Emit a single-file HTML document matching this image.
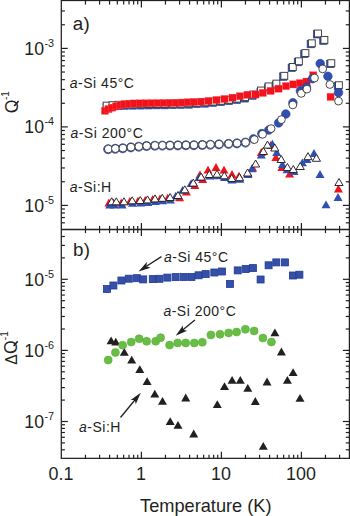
<!DOCTYPE html>
<html><head><meta charset="utf-8"><style>
html,body{margin:0;padding:0;background:#fff;}
body{width:350px;height:516px;overflow:hidden;}
svg{display:block;}
</style></head><body>
<svg width="350" height="516" viewBox="0 0 350 516">
<rect width="350" height="516" fill="#fff"/>
<line x1="85.48" y1="0.50" x2="85.48" y2="4.60" stroke="#231f20" stroke-width="1.2"/>
<line x1="85.48" y1="225.90" x2="85.48" y2="233.10" stroke="#231f20" stroke-width="1.2"/>
<line x1="85.48" y1="454.75" x2="85.48" y2="458.35" stroke="#231f20" stroke-width="1.2"/>
<line x1="99.57" y1="0.50" x2="99.57" y2="4.60" stroke="#231f20" stroke-width="1.2"/>
<line x1="99.57" y1="225.90" x2="99.57" y2="233.10" stroke="#231f20" stroke-width="1.2"/>
<line x1="99.57" y1="454.75" x2="99.57" y2="458.35" stroke="#231f20" stroke-width="1.2"/>
<line x1="109.56" y1="0.50" x2="109.56" y2="4.60" stroke="#231f20" stroke-width="1.2"/>
<line x1="109.56" y1="225.90" x2="109.56" y2="233.10" stroke="#231f20" stroke-width="1.2"/>
<line x1="109.56" y1="454.75" x2="109.56" y2="458.35" stroke="#231f20" stroke-width="1.2"/>
<line x1="117.32" y1="0.50" x2="117.32" y2="4.60" stroke="#231f20" stroke-width="1.2"/>
<line x1="117.32" y1="225.90" x2="117.32" y2="233.10" stroke="#231f20" stroke-width="1.2"/>
<line x1="117.32" y1="454.75" x2="117.32" y2="458.35" stroke="#231f20" stroke-width="1.2"/>
<line x1="123.65" y1="0.50" x2="123.65" y2="4.60" stroke="#231f20" stroke-width="1.2"/>
<line x1="123.65" y1="225.90" x2="123.65" y2="233.10" stroke="#231f20" stroke-width="1.2"/>
<line x1="123.65" y1="454.75" x2="123.65" y2="458.35" stroke="#231f20" stroke-width="1.2"/>
<line x1="129.01" y1="0.50" x2="129.01" y2="4.60" stroke="#231f20" stroke-width="1.2"/>
<line x1="129.01" y1="225.90" x2="129.01" y2="233.10" stroke="#231f20" stroke-width="1.2"/>
<line x1="129.01" y1="454.75" x2="129.01" y2="458.35" stroke="#231f20" stroke-width="1.2"/>
<line x1="133.65" y1="0.50" x2="133.65" y2="4.60" stroke="#231f20" stroke-width="1.2"/>
<line x1="133.65" y1="225.90" x2="133.65" y2="233.10" stroke="#231f20" stroke-width="1.2"/>
<line x1="133.65" y1="454.75" x2="133.65" y2="458.35" stroke="#231f20" stroke-width="1.2"/>
<line x1="137.74" y1="0.50" x2="137.74" y2="4.60" stroke="#231f20" stroke-width="1.2"/>
<line x1="137.74" y1="225.90" x2="137.74" y2="233.10" stroke="#231f20" stroke-width="1.2"/>
<line x1="137.74" y1="454.75" x2="137.74" y2="458.35" stroke="#231f20" stroke-width="1.2"/>
<line x1="141.40" y1="0.50" x2="141.40" y2="7.50" stroke="#231f20" stroke-width="1.2"/>
<line x1="141.40" y1="223.00" x2="141.40" y2="236.00" stroke="#231f20" stroke-width="1.2"/>
<line x1="141.40" y1="451.85" x2="141.40" y2="458.35" stroke="#231f20" stroke-width="1.2"/>
<line x1="165.48" y1="0.50" x2="165.48" y2="4.60" stroke="#231f20" stroke-width="1.2"/>
<line x1="165.48" y1="225.90" x2="165.48" y2="233.10" stroke="#231f20" stroke-width="1.2"/>
<line x1="165.48" y1="454.75" x2="165.48" y2="458.35" stroke="#231f20" stroke-width="1.2"/>
<line x1="179.57" y1="0.50" x2="179.57" y2="4.60" stroke="#231f20" stroke-width="1.2"/>
<line x1="179.57" y1="225.90" x2="179.57" y2="233.10" stroke="#231f20" stroke-width="1.2"/>
<line x1="179.57" y1="454.75" x2="179.57" y2="458.35" stroke="#231f20" stroke-width="1.2"/>
<line x1="189.56" y1="0.50" x2="189.56" y2="4.60" stroke="#231f20" stroke-width="1.2"/>
<line x1="189.56" y1="225.90" x2="189.56" y2="233.10" stroke="#231f20" stroke-width="1.2"/>
<line x1="189.56" y1="454.75" x2="189.56" y2="458.35" stroke="#231f20" stroke-width="1.2"/>
<line x1="197.32" y1="0.50" x2="197.32" y2="4.60" stroke="#231f20" stroke-width="1.2"/>
<line x1="197.32" y1="225.90" x2="197.32" y2="233.10" stroke="#231f20" stroke-width="1.2"/>
<line x1="197.32" y1="454.75" x2="197.32" y2="458.35" stroke="#231f20" stroke-width="1.2"/>
<line x1="203.65" y1="0.50" x2="203.65" y2="4.60" stroke="#231f20" stroke-width="1.2"/>
<line x1="203.65" y1="225.90" x2="203.65" y2="233.10" stroke="#231f20" stroke-width="1.2"/>
<line x1="203.65" y1="454.75" x2="203.65" y2="458.35" stroke="#231f20" stroke-width="1.2"/>
<line x1="209.01" y1="0.50" x2="209.01" y2="4.60" stroke="#231f20" stroke-width="1.2"/>
<line x1="209.01" y1="225.90" x2="209.01" y2="233.10" stroke="#231f20" stroke-width="1.2"/>
<line x1="209.01" y1="454.75" x2="209.01" y2="458.35" stroke="#231f20" stroke-width="1.2"/>
<line x1="213.65" y1="0.50" x2="213.65" y2="4.60" stroke="#231f20" stroke-width="1.2"/>
<line x1="213.65" y1="225.90" x2="213.65" y2="233.10" stroke="#231f20" stroke-width="1.2"/>
<line x1="213.65" y1="454.75" x2="213.65" y2="458.35" stroke="#231f20" stroke-width="1.2"/>
<line x1="217.74" y1="0.50" x2="217.74" y2="4.60" stroke="#231f20" stroke-width="1.2"/>
<line x1="217.74" y1="225.90" x2="217.74" y2="233.10" stroke="#231f20" stroke-width="1.2"/>
<line x1="217.74" y1="454.75" x2="217.74" y2="458.35" stroke="#231f20" stroke-width="1.2"/>
<line x1="221.40" y1="0.50" x2="221.40" y2="7.50" stroke="#231f20" stroke-width="1.2"/>
<line x1="221.40" y1="223.00" x2="221.40" y2="236.00" stroke="#231f20" stroke-width="1.2"/>
<line x1="221.40" y1="451.85" x2="221.40" y2="458.35" stroke="#231f20" stroke-width="1.2"/>
<line x1="245.48" y1="0.50" x2="245.48" y2="4.60" stroke="#231f20" stroke-width="1.2"/>
<line x1="245.48" y1="225.90" x2="245.48" y2="233.10" stroke="#231f20" stroke-width="1.2"/>
<line x1="245.48" y1="454.75" x2="245.48" y2="458.35" stroke="#231f20" stroke-width="1.2"/>
<line x1="259.57" y1="0.50" x2="259.57" y2="4.60" stroke="#231f20" stroke-width="1.2"/>
<line x1="259.57" y1="225.90" x2="259.57" y2="233.10" stroke="#231f20" stroke-width="1.2"/>
<line x1="259.57" y1="454.75" x2="259.57" y2="458.35" stroke="#231f20" stroke-width="1.2"/>
<line x1="269.56" y1="0.50" x2="269.56" y2="4.60" stroke="#231f20" stroke-width="1.2"/>
<line x1="269.56" y1="225.90" x2="269.56" y2="233.10" stroke="#231f20" stroke-width="1.2"/>
<line x1="269.56" y1="454.75" x2="269.56" y2="458.35" stroke="#231f20" stroke-width="1.2"/>
<line x1="277.32" y1="0.50" x2="277.32" y2="4.60" stroke="#231f20" stroke-width="1.2"/>
<line x1="277.32" y1="225.90" x2="277.32" y2="233.10" stroke="#231f20" stroke-width="1.2"/>
<line x1="277.32" y1="454.75" x2="277.32" y2="458.35" stroke="#231f20" stroke-width="1.2"/>
<line x1="283.65" y1="0.50" x2="283.65" y2="4.60" stroke="#231f20" stroke-width="1.2"/>
<line x1="283.65" y1="225.90" x2="283.65" y2="233.10" stroke="#231f20" stroke-width="1.2"/>
<line x1="283.65" y1="454.75" x2="283.65" y2="458.35" stroke="#231f20" stroke-width="1.2"/>
<line x1="289.01" y1="0.50" x2="289.01" y2="4.60" stroke="#231f20" stroke-width="1.2"/>
<line x1="289.01" y1="225.90" x2="289.01" y2="233.10" stroke="#231f20" stroke-width="1.2"/>
<line x1="289.01" y1="454.75" x2="289.01" y2="458.35" stroke="#231f20" stroke-width="1.2"/>
<line x1="293.65" y1="0.50" x2="293.65" y2="4.60" stroke="#231f20" stroke-width="1.2"/>
<line x1="293.65" y1="225.90" x2="293.65" y2="233.10" stroke="#231f20" stroke-width="1.2"/>
<line x1="293.65" y1="454.75" x2="293.65" y2="458.35" stroke="#231f20" stroke-width="1.2"/>
<line x1="297.74" y1="0.50" x2="297.74" y2="4.60" stroke="#231f20" stroke-width="1.2"/>
<line x1="297.74" y1="225.90" x2="297.74" y2="233.10" stroke="#231f20" stroke-width="1.2"/>
<line x1="297.74" y1="454.75" x2="297.74" y2="458.35" stroke="#231f20" stroke-width="1.2"/>
<line x1="301.40" y1="0.50" x2="301.40" y2="7.50" stroke="#231f20" stroke-width="1.2"/>
<line x1="301.40" y1="223.00" x2="301.40" y2="236.00" stroke="#231f20" stroke-width="1.2"/>
<line x1="301.40" y1="451.85" x2="301.40" y2="458.35" stroke="#231f20" stroke-width="1.2"/>
<line x1="325.48" y1="0.50" x2="325.48" y2="4.60" stroke="#231f20" stroke-width="1.2"/>
<line x1="325.48" y1="225.90" x2="325.48" y2="233.10" stroke="#231f20" stroke-width="1.2"/>
<line x1="325.48" y1="454.75" x2="325.48" y2="458.35" stroke="#231f20" stroke-width="1.2"/>
<line x1="339.57" y1="0.50" x2="339.57" y2="4.60" stroke="#231f20" stroke-width="1.2"/>
<line x1="339.57" y1="225.90" x2="339.57" y2="233.10" stroke="#231f20" stroke-width="1.2"/>
<line x1="339.57" y1="454.75" x2="339.57" y2="458.35" stroke="#231f20" stroke-width="1.2"/>
<line x1="61.30" y1="222.82" x2="64.90" y2="222.82" stroke="#231f20" stroke-width="1.2"/>
<line x1="345.80" y1="222.82" x2="349.40" y2="222.82" stroke="#231f20" stroke-width="1.2"/>
<line x1="61.30" y1="217.56" x2="64.90" y2="217.56" stroke="#231f20" stroke-width="1.2"/>
<line x1="345.80" y1="217.56" x2="349.40" y2="217.56" stroke="#231f20" stroke-width="1.2"/>
<line x1="61.30" y1="213.01" x2="64.90" y2="213.01" stroke="#231f20" stroke-width="1.2"/>
<line x1="345.80" y1="213.01" x2="349.40" y2="213.01" stroke="#231f20" stroke-width="1.2"/>
<line x1="61.30" y1="208.99" x2="64.90" y2="208.99" stroke="#231f20" stroke-width="1.2"/>
<line x1="345.80" y1="208.99" x2="349.40" y2="208.99" stroke="#231f20" stroke-width="1.2"/>
<line x1="61.30" y1="205.40" x2="67.80" y2="205.40" stroke="#231f20" stroke-width="1.2"/>
<line x1="342.90" y1="205.40" x2="349.40" y2="205.40" stroke="#231f20" stroke-width="1.2"/>
<line x1="61.30" y1="181.77" x2="64.90" y2="181.77" stroke="#231f20" stroke-width="1.2"/>
<line x1="345.80" y1="181.77" x2="349.40" y2="181.77" stroke="#231f20" stroke-width="1.2"/>
<line x1="61.30" y1="167.95" x2="64.90" y2="167.95" stroke="#231f20" stroke-width="1.2"/>
<line x1="345.80" y1="167.95" x2="349.40" y2="167.95" stroke="#231f20" stroke-width="1.2"/>
<line x1="61.30" y1="158.14" x2="64.90" y2="158.14" stroke="#231f20" stroke-width="1.2"/>
<line x1="345.80" y1="158.14" x2="349.40" y2="158.14" stroke="#231f20" stroke-width="1.2"/>
<line x1="61.30" y1="150.53" x2="64.90" y2="150.53" stroke="#231f20" stroke-width="1.2"/>
<line x1="345.80" y1="150.53" x2="349.40" y2="150.53" stroke="#231f20" stroke-width="1.2"/>
<line x1="61.30" y1="144.32" x2="64.90" y2="144.32" stroke="#231f20" stroke-width="1.2"/>
<line x1="345.80" y1="144.32" x2="349.40" y2="144.32" stroke="#231f20" stroke-width="1.2"/>
<line x1="61.30" y1="139.06" x2="64.90" y2="139.06" stroke="#231f20" stroke-width="1.2"/>
<line x1="345.80" y1="139.06" x2="349.40" y2="139.06" stroke="#231f20" stroke-width="1.2"/>
<line x1="61.30" y1="134.51" x2="64.90" y2="134.51" stroke="#231f20" stroke-width="1.2"/>
<line x1="345.80" y1="134.51" x2="349.40" y2="134.51" stroke="#231f20" stroke-width="1.2"/>
<line x1="61.30" y1="130.49" x2="64.90" y2="130.49" stroke="#231f20" stroke-width="1.2"/>
<line x1="345.80" y1="130.49" x2="349.40" y2="130.49" stroke="#231f20" stroke-width="1.2"/>
<line x1="61.30" y1="126.90" x2="67.80" y2="126.90" stroke="#231f20" stroke-width="1.2"/>
<line x1="342.90" y1="126.90" x2="349.40" y2="126.90" stroke="#231f20" stroke-width="1.2"/>
<line x1="61.30" y1="103.27" x2="64.90" y2="103.27" stroke="#231f20" stroke-width="1.2"/>
<line x1="345.80" y1="103.27" x2="349.40" y2="103.27" stroke="#231f20" stroke-width="1.2"/>
<line x1="61.30" y1="89.45" x2="64.90" y2="89.45" stroke="#231f20" stroke-width="1.2"/>
<line x1="345.80" y1="89.45" x2="349.40" y2="89.45" stroke="#231f20" stroke-width="1.2"/>
<line x1="61.30" y1="79.64" x2="64.90" y2="79.64" stroke="#231f20" stroke-width="1.2"/>
<line x1="345.80" y1="79.64" x2="349.40" y2="79.64" stroke="#231f20" stroke-width="1.2"/>
<line x1="61.30" y1="72.03" x2="64.90" y2="72.03" stroke="#231f20" stroke-width="1.2"/>
<line x1="345.80" y1="72.03" x2="349.40" y2="72.03" stroke="#231f20" stroke-width="1.2"/>
<line x1="61.30" y1="65.82" x2="64.90" y2="65.82" stroke="#231f20" stroke-width="1.2"/>
<line x1="345.80" y1="65.82" x2="349.40" y2="65.82" stroke="#231f20" stroke-width="1.2"/>
<line x1="61.30" y1="60.56" x2="64.90" y2="60.56" stroke="#231f20" stroke-width="1.2"/>
<line x1="345.80" y1="60.56" x2="349.40" y2="60.56" stroke="#231f20" stroke-width="1.2"/>
<line x1="61.30" y1="56.01" x2="64.90" y2="56.01" stroke="#231f20" stroke-width="1.2"/>
<line x1="345.80" y1="56.01" x2="349.40" y2="56.01" stroke="#231f20" stroke-width="1.2"/>
<line x1="61.30" y1="51.99" x2="64.90" y2="51.99" stroke="#231f20" stroke-width="1.2"/>
<line x1="345.80" y1="51.99" x2="349.40" y2="51.99" stroke="#231f20" stroke-width="1.2"/>
<line x1="61.30" y1="48.40" x2="67.80" y2="48.40" stroke="#231f20" stroke-width="1.2"/>
<line x1="342.90" y1="48.40" x2="349.40" y2="48.40" stroke="#231f20" stroke-width="1.2"/>
<line x1="61.30" y1="24.77" x2="64.90" y2="24.77" stroke="#231f20" stroke-width="1.2"/>
<line x1="345.80" y1="24.77" x2="349.40" y2="24.77" stroke="#231f20" stroke-width="1.2"/>
<line x1="61.30" y1="10.95" x2="64.90" y2="10.95" stroke="#231f20" stroke-width="1.2"/>
<line x1="345.80" y1="10.95" x2="349.40" y2="10.95" stroke="#231f20" stroke-width="1.2"/>
<line x1="61.30" y1="449.79" x2="64.90" y2="449.79" stroke="#231f20" stroke-width="1.2"/>
<line x1="345.80" y1="449.79" x2="349.40" y2="449.79" stroke="#231f20" stroke-width="1.2"/>
<line x1="61.30" y1="442.90" x2="64.90" y2="442.90" stroke="#231f20" stroke-width="1.2"/>
<line x1="345.80" y1="442.90" x2="349.40" y2="442.90" stroke="#231f20" stroke-width="1.2"/>
<line x1="61.30" y1="437.27" x2="64.90" y2="437.27" stroke="#231f20" stroke-width="1.2"/>
<line x1="345.80" y1="437.27" x2="349.40" y2="437.27" stroke="#231f20" stroke-width="1.2"/>
<line x1="61.30" y1="432.51" x2="64.90" y2="432.51" stroke="#231f20" stroke-width="1.2"/>
<line x1="345.80" y1="432.51" x2="349.40" y2="432.51" stroke="#231f20" stroke-width="1.2"/>
<line x1="61.30" y1="428.39" x2="64.90" y2="428.39" stroke="#231f20" stroke-width="1.2"/>
<line x1="345.80" y1="428.39" x2="349.40" y2="428.39" stroke="#231f20" stroke-width="1.2"/>
<line x1="61.30" y1="424.75" x2="64.90" y2="424.75" stroke="#231f20" stroke-width="1.2"/>
<line x1="345.80" y1="424.75" x2="349.40" y2="424.75" stroke="#231f20" stroke-width="1.2"/>
<line x1="61.30" y1="421.50" x2="67.80" y2="421.50" stroke="#231f20" stroke-width="1.2"/>
<line x1="342.90" y1="421.50" x2="349.40" y2="421.50" stroke="#231f20" stroke-width="1.2"/>
<line x1="61.30" y1="400.10" x2="64.90" y2="400.10" stroke="#231f20" stroke-width="1.2"/>
<line x1="345.80" y1="400.10" x2="349.40" y2="400.10" stroke="#231f20" stroke-width="1.2"/>
<line x1="61.30" y1="387.58" x2="64.90" y2="387.58" stroke="#231f20" stroke-width="1.2"/>
<line x1="345.80" y1="387.58" x2="349.40" y2="387.58" stroke="#231f20" stroke-width="1.2"/>
<line x1="61.30" y1="378.69" x2="64.90" y2="378.69" stroke="#231f20" stroke-width="1.2"/>
<line x1="345.80" y1="378.69" x2="349.40" y2="378.69" stroke="#231f20" stroke-width="1.2"/>
<line x1="61.30" y1="371.80" x2="64.90" y2="371.80" stroke="#231f20" stroke-width="1.2"/>
<line x1="345.80" y1="371.80" x2="349.40" y2="371.80" stroke="#231f20" stroke-width="1.2"/>
<line x1="61.30" y1="366.17" x2="64.90" y2="366.17" stroke="#231f20" stroke-width="1.2"/>
<line x1="345.80" y1="366.17" x2="349.40" y2="366.17" stroke="#231f20" stroke-width="1.2"/>
<line x1="61.30" y1="361.41" x2="64.90" y2="361.41" stroke="#231f20" stroke-width="1.2"/>
<line x1="345.80" y1="361.41" x2="349.40" y2="361.41" stroke="#231f20" stroke-width="1.2"/>
<line x1="61.30" y1="357.29" x2="64.90" y2="357.29" stroke="#231f20" stroke-width="1.2"/>
<line x1="345.80" y1="357.29" x2="349.40" y2="357.29" stroke="#231f20" stroke-width="1.2"/>
<line x1="61.30" y1="353.65" x2="64.90" y2="353.65" stroke="#231f20" stroke-width="1.2"/>
<line x1="345.80" y1="353.65" x2="349.40" y2="353.65" stroke="#231f20" stroke-width="1.2"/>
<line x1="61.30" y1="350.40" x2="67.80" y2="350.40" stroke="#231f20" stroke-width="1.2"/>
<line x1="342.90" y1="350.40" x2="349.40" y2="350.40" stroke="#231f20" stroke-width="1.2"/>
<line x1="61.30" y1="329.00" x2="64.90" y2="329.00" stroke="#231f20" stroke-width="1.2"/>
<line x1="345.80" y1="329.00" x2="349.40" y2="329.00" stroke="#231f20" stroke-width="1.2"/>
<line x1="61.30" y1="316.48" x2="64.90" y2="316.48" stroke="#231f20" stroke-width="1.2"/>
<line x1="345.80" y1="316.48" x2="349.40" y2="316.48" stroke="#231f20" stroke-width="1.2"/>
<line x1="61.30" y1="307.59" x2="64.90" y2="307.59" stroke="#231f20" stroke-width="1.2"/>
<line x1="345.80" y1="307.59" x2="349.40" y2="307.59" stroke="#231f20" stroke-width="1.2"/>
<line x1="61.30" y1="300.70" x2="64.90" y2="300.70" stroke="#231f20" stroke-width="1.2"/>
<line x1="345.80" y1="300.70" x2="349.40" y2="300.70" stroke="#231f20" stroke-width="1.2"/>
<line x1="61.30" y1="295.07" x2="64.90" y2="295.07" stroke="#231f20" stroke-width="1.2"/>
<line x1="345.80" y1="295.07" x2="349.40" y2="295.07" stroke="#231f20" stroke-width="1.2"/>
<line x1="61.30" y1="290.31" x2="64.90" y2="290.31" stroke="#231f20" stroke-width="1.2"/>
<line x1="345.80" y1="290.31" x2="349.40" y2="290.31" stroke="#231f20" stroke-width="1.2"/>
<line x1="61.30" y1="286.19" x2="64.90" y2="286.19" stroke="#231f20" stroke-width="1.2"/>
<line x1="345.80" y1="286.19" x2="349.40" y2="286.19" stroke="#231f20" stroke-width="1.2"/>
<line x1="61.30" y1="282.55" x2="64.90" y2="282.55" stroke="#231f20" stroke-width="1.2"/>
<line x1="345.80" y1="282.55" x2="349.40" y2="282.55" stroke="#231f20" stroke-width="1.2"/>
<line x1="61.30" y1="279.30" x2="67.80" y2="279.30" stroke="#231f20" stroke-width="1.2"/>
<line x1="342.90" y1="279.30" x2="349.40" y2="279.30" stroke="#231f20" stroke-width="1.2"/>
<line x1="61.30" y1="257.90" x2="64.90" y2="257.90" stroke="#231f20" stroke-width="1.2"/>
<line x1="345.80" y1="257.90" x2="349.40" y2="257.90" stroke="#231f20" stroke-width="1.2"/>
<line x1="61.30" y1="245.38" x2="64.90" y2="245.38" stroke="#231f20" stroke-width="1.2"/>
<line x1="345.80" y1="245.38" x2="349.40" y2="245.38" stroke="#231f20" stroke-width="1.2"/>
<line x1="61.30" y1="236.49" x2="64.90" y2="236.49" stroke="#231f20" stroke-width="1.2"/>
<line x1="345.80" y1="236.49" x2="349.40" y2="236.49" stroke="#231f20" stroke-width="1.2"/>
<rect x="61.30" y="0.50" width="288.10" height="457.85" fill="none" stroke="#231f20" stroke-width="1.25"/>
<line x1="61.30" y1="229.50" x2="349.40" y2="229.50" stroke="#231f20" stroke-width="1.3"/>
<rect x="103.00" y="103.30" width="7.20" height="7.20" fill="#2f4fb3" stroke="#1f3a9a" stroke-width="0.5"/>
<rect x="108.90" y="102.90" width="7.20" height="7.20" fill="#2f4fb3" stroke="#1f3a9a" stroke-width="0.5"/>
<rect x="114.90" y="102.50" width="7.20" height="7.20" fill="#2f4fb3" stroke="#1f3a9a" stroke-width="0.5"/>
<rect x="121.40" y="102.20" width="7.20" height="7.20" fill="#2f4fb3" stroke="#1f3a9a" stroke-width="0.5"/>
<rect x="129.40" y="102.00" width="7.20" height="7.20" fill="#2f4fb3" stroke="#1f3a9a" stroke-width="0.5"/>
<rect x="137.40" y="101.90" width="7.20" height="7.20" fill="#2f4fb3" stroke="#1f3a9a" stroke-width="0.5"/>
<rect x="145.40" y="101.80" width="7.20" height="7.20" fill="#2f4fb3" stroke="#1f3a9a" stroke-width="0.5"/>
<rect x="153.40" y="101.70" width="7.20" height="7.20" fill="#2f4fb3" stroke="#1f3a9a" stroke-width="0.5"/>
<rect x="161.40" y="101.70" width="7.20" height="7.20" fill="#2f4fb3" stroke="#1f3a9a" stroke-width="0.5"/>
<rect x="169.40" y="101.50" width="7.20" height="7.20" fill="#2f4fb3" stroke="#1f3a9a" stroke-width="0.5"/>
<rect x="177.40" y="101.30" width="7.20" height="7.20" fill="#2f4fb3" stroke="#1f3a9a" stroke-width="0.5"/>
<rect x="185.40" y="101.00" width="7.20" height="7.20" fill="#2f4fb3" stroke="#1f3a9a" stroke-width="0.5"/>
<rect x="193.40" y="100.50" width="7.20" height="7.20" fill="#2f4fb3" stroke="#1f3a9a" stroke-width="0.5"/>
<rect x="201.40" y="100.00" width="7.20" height="7.20" fill="#2f4fb3" stroke="#1f3a9a" stroke-width="0.5"/>
<rect x="209.40" y="99.30" width="7.20" height="7.20" fill="#2f4fb3" stroke="#1f3a9a" stroke-width="0.5"/>
<rect x="217.40" y="98.50" width="7.20" height="7.20" fill="#2f4fb3" stroke="#1f3a9a" stroke-width="0.5"/>
<rect x="225.40" y="97.50" width="7.20" height="7.20" fill="#2f4fb3" stroke="#1f3a9a" stroke-width="0.5"/>
<rect x="233.40" y="96.40" width="7.20" height="7.20" fill="#2f4fb3" stroke="#1f3a9a" stroke-width="0.5"/>
<rect x="241.40" y="94.90" width="7.20" height="7.20" fill="#2f4fb3" stroke="#1f3a9a" stroke-width="0.5"/>
<rect x="248.90" y="92.20" width="7.20" height="7.20" fill="#2f4fb3" stroke="#1f3a9a" stroke-width="0.5"/>
<rect x="256.90" y="88.20" width="7.20" height="7.20" fill="#2f4fb3" stroke="#1f3a9a" stroke-width="0.5"/>
<rect x="264.50" y="84.10" width="7.20" height="7.20" fill="#2f4fb3" stroke="#1f3a9a" stroke-width="0.5"/>
<rect x="272.30" y="81.30" width="7.20" height="7.20" fill="#2f4fb3" stroke="#1f3a9a" stroke-width="0.5"/>
<rect x="279.60" y="72.90" width="7.40" height="7.40" fill="#2f4fb3" stroke="#1f3a9a" stroke-width="0.6"/>
<rect x="288.10" y="64.10" width="7.40" height="7.40" fill="#2f4fb3" stroke="#1f3a9a" stroke-width="0.6"/>
<rect x="294.20" y="58.40" width="7.40" height="7.40" fill="#2f4fb3" stroke="#1f3a9a" stroke-width="0.6"/>
<rect x="300.70" y="50.20" width="7.40" height="7.40" fill="#2f4fb3" stroke="#1f3a9a" stroke-width="0.6"/>
<rect x="307.10" y="40.40" width="7.40" height="7.40" fill="#2f4fb3" stroke="#1f3a9a" stroke-width="0.6"/>
<rect x="313.30" y="30.60" width="7.40" height="7.40" fill="#2f4fb3" stroke="#1f3a9a" stroke-width="0.6"/>
<rect x="319.70" y="37.00" width="7.40" height="7.40" fill="#2f4fb3" stroke="#1f3a9a" stroke-width="0.6"/>
<rect x="326.60" y="60.30" width="7.40" height="7.40" fill="#2f4fb3" stroke="#1f3a9a" stroke-width="0.6"/>
<rect x="334.20" y="82.30" width="7.40" height="7.40" fill="#2f4fb3" stroke="#1f3a9a" stroke-width="0.6"/>
<rect x="103.15" y="102.15" width="6.90" height="6.90" fill="white" stroke="#3a3a3a" stroke-width="0.95"/>
<rect x="109.05" y="101.75" width="6.90" height="6.90" fill="white" stroke="#3a3a3a" stroke-width="0.95"/>
<rect x="115.05" y="101.35" width="6.90" height="6.90" fill="white" stroke="#3a3a3a" stroke-width="0.95"/>
<rect x="121.55" y="101.05" width="6.90" height="6.90" fill="white" stroke="#3a3a3a" stroke-width="0.95"/>
<rect x="129.55" y="100.85" width="6.90" height="6.90" fill="white" stroke="#3a3a3a" stroke-width="0.95"/>
<rect x="137.55" y="100.75" width="6.90" height="6.90" fill="white" stroke="#3a3a3a" stroke-width="0.95"/>
<rect x="145.55" y="100.65" width="6.90" height="6.90" fill="white" stroke="#3a3a3a" stroke-width="0.95"/>
<rect x="153.55" y="100.55" width="6.90" height="6.90" fill="white" stroke="#3a3a3a" stroke-width="0.95"/>
<rect x="161.55" y="100.55" width="6.90" height="6.90" fill="white" stroke="#3a3a3a" stroke-width="0.95"/>
<rect x="169.55" y="100.35" width="6.90" height="6.90" fill="white" stroke="#3a3a3a" stroke-width="0.95"/>
<rect x="177.55" y="100.15" width="6.90" height="6.90" fill="white" stroke="#3a3a3a" stroke-width="0.95"/>
<rect x="185.55" y="99.85" width="6.90" height="6.90" fill="white" stroke="#3a3a3a" stroke-width="0.95"/>
<rect x="193.55" y="99.35" width="6.90" height="6.90" fill="white" stroke="#3a3a3a" stroke-width="0.95"/>
<rect x="201.55" y="98.85" width="6.90" height="6.90" fill="white" stroke="#3a3a3a" stroke-width="0.95"/>
<rect x="209.55" y="98.15" width="6.90" height="6.90" fill="white" stroke="#3a3a3a" stroke-width="0.95"/>
<rect x="217.55" y="97.35" width="6.90" height="6.90" fill="white" stroke="#3a3a3a" stroke-width="0.95"/>
<rect x="225.55" y="96.35" width="6.90" height="6.90" fill="white" stroke="#3a3a3a" stroke-width="0.95"/>
<rect x="233.55" y="95.25" width="6.90" height="6.90" fill="white" stroke="#3a3a3a" stroke-width="0.95"/>
<rect x="241.55" y="93.75" width="6.90" height="6.90" fill="white" stroke="#3a3a3a" stroke-width="0.95"/>
<rect x="249.55" y="91.05" width="6.90" height="6.90" fill="white" stroke="#3a3a3a" stroke-width="0.95"/>
<rect x="257.55" y="87.05" width="6.90" height="6.90" fill="white" stroke="#3a3a3a" stroke-width="0.95"/>
<rect x="265.15" y="82.95" width="6.90" height="6.90" fill="white" stroke="#3a3a3a" stroke-width="0.95"/>
<rect x="272.95" y="80.15" width="6.90" height="6.90" fill="white" stroke="#3a3a3a" stroke-width="0.95"/>
<rect x="280.85" y="72.35" width="6.90" height="6.90" fill="white" stroke="#3a3a3a" stroke-width="0.95"/>
<rect x="289.35" y="63.55" width="6.90" height="6.90" fill="white" stroke="#3a3a3a" stroke-width="0.95"/>
<rect x="295.45" y="57.85" width="6.90" height="6.90" fill="white" stroke="#3a3a3a" stroke-width="0.95"/>
<rect x="301.95" y="49.65" width="6.90" height="6.90" fill="white" stroke="#3a3a3a" stroke-width="0.95"/>
<rect x="308.35" y="39.85" width="6.90" height="6.90" fill="white" stroke="#3a3a3a" stroke-width="0.95"/>
<rect x="314.55" y="30.05" width="6.90" height="6.90" fill="white" stroke="#3a3a3a" stroke-width="0.95"/>
<rect x="320.95" y="36.45" width="6.90" height="6.90" fill="white" stroke="#3a3a3a" stroke-width="0.95"/>
<rect x="327.85" y="59.75" width="6.90" height="6.90" fill="white" stroke="#3a3a3a" stroke-width="0.95"/>
<rect x="335.45" y="81.75" width="6.90" height="6.90" fill="white" stroke="#3a3a3a" stroke-width="0.95"/>
<rect x="101.40" y="107.20" width="7.20" height="7.20" fill="#f3121c" stroke="#f86060" stroke-width="0.3"/>
<rect x="104.90" y="105.50" width="7.20" height="7.20" fill="#f3121c" stroke="#f86060" stroke-width="0.3"/>
<rect x="108.40" y="104.10" width="7.20" height="7.20" fill="#f3121c" stroke="#f86060" stroke-width="0.3"/>
<rect x="112.40" y="102.80" width="7.20" height="7.20" fill="#f3121c" stroke="#f86060" stroke-width="0.3"/>
<rect x="116.40" y="101.60" width="7.20" height="7.20" fill="#f3121c" stroke="#f86060" stroke-width="0.3"/>
<rect x="120.90" y="100.80" width="7.20" height="7.20" fill="#f3121c" stroke="#f86060" stroke-width="0.3"/>
<rect x="125.40" y="100.20" width="7.20" height="7.20" fill="#f3121c" stroke="#f86060" stroke-width="0.3"/>
<rect x="130.40" y="99.90" width="7.20" height="7.20" fill="#f3121c" stroke="#f86060" stroke-width="0.3"/>
<rect x="136.40" y="99.80" width="7.20" height="7.20" fill="#f3121c" stroke="#f86060" stroke-width="0.3"/>
<rect x="142.40" y="99.70" width="7.20" height="7.20" fill="#f3121c" stroke="#f86060" stroke-width="0.3"/>
<rect x="148.40" y="99.60" width="7.20" height="7.20" fill="#f3121c" stroke="#f86060" stroke-width="0.3"/>
<rect x="154.40" y="99.50" width="7.20" height="7.20" fill="#f3121c" stroke="#f86060" stroke-width="0.3"/>
<rect x="160.40" y="99.40" width="7.20" height="7.20" fill="#f3121c" stroke="#f86060" stroke-width="0.3"/>
<rect x="166.40" y="99.30" width="7.20" height="7.20" fill="#f3121c" stroke="#f86060" stroke-width="0.3"/>
<rect x="172.40" y="99.20" width="7.20" height="7.20" fill="#f3121c" stroke="#f86060" stroke-width="0.3"/>
<rect x="178.40" y="99.00" width="7.20" height="7.20" fill="#f3121c" stroke="#f86060" stroke-width="0.3"/>
<rect x="184.40" y="98.70" width="7.20" height="7.20" fill="#f3121c" stroke="#f86060" stroke-width="0.3"/>
<rect x="190.40" y="98.40" width="7.20" height="7.20" fill="#f3121c" stroke="#f86060" stroke-width="0.3"/>
<rect x="197.40" y="98.10" width="7.20" height="7.20" fill="#f3121c" stroke="#f86060" stroke-width="0.3"/>
<rect x="204.90" y="97.40" width="7.20" height="7.20" fill="#f3121c" stroke="#f86060" stroke-width="0.3"/>
<rect x="212.90" y="96.40" width="7.20" height="7.20" fill="#f3121c" stroke="#f86060" stroke-width="0.3"/>
<rect x="220.90" y="95.40" width="7.20" height="7.20" fill="#f3121c" stroke="#f86060" stroke-width="0.3"/>
<rect x="228.90" y="94.10" width="7.20" height="7.20" fill="#f3121c" stroke="#f86060" stroke-width="0.3"/>
<rect x="236.40" y="92.60" width="7.20" height="7.20" fill="#f3121c" stroke="#f86060" stroke-width="0.3"/>
<rect x="243.90" y="91.20" width="7.20" height="7.20" fill="#f3121c" stroke="#f86060" stroke-width="0.3"/>
<rect x="251.90" y="90.90" width="7.20" height="7.20" fill="#f3121c" stroke="#f86060" stroke-width="0.3"/>
<rect x="259.20" y="89.30" width="7.20" height="7.20" fill="#f3121c" stroke="#f86060" stroke-width="0.3"/>
<rect x="267.00" y="87.30" width="7.20" height="7.20" fill="#f3121c" stroke="#f86060" stroke-width="0.3"/>
<rect x="274.90" y="85.10" width="7.20" height="7.20" fill="#f3121c" stroke="#f86060" stroke-width="0.3"/>
<rect x="282.40" y="82.50" width="7.20" height="7.20" fill="#f3121c" stroke="#f86060" stroke-width="0.3"/>
<rect x="289.70" y="80.80" width="7.20" height="7.20" fill="#f3121c" stroke="#f86060" stroke-width="0.3"/>
<rect x="296.40" y="79.50" width="7.20" height="7.20" fill="#f3121c" stroke="#f86060" stroke-width="0.3"/>
<rect x="302.90" y="78.00" width="7.20" height="7.20" fill="#f3121c" stroke="#f86060" stroke-width="0.3"/>
<rect x="309.60" y="71.70" width="7.20" height="7.20" fill="#f3121c" stroke="#f86060" stroke-width="0.3"/>
<rect x="327.00" y="93.30" width="7.20" height="7.20" fill="#f3121c" stroke="#f86060" stroke-width="0.3"/>
<circle cx="108.10" cy="149.20" r="4.55" fill="#2f4fb3" stroke="#1f3a9a" stroke-width="0.6"/>
<circle cx="115.20" cy="148.80" r="4.55" fill="#2f4fb3" stroke="#1f3a9a" stroke-width="0.6"/>
<circle cx="122.70" cy="148.30" r="4.55" fill="#2f4fb3" stroke="#1f3a9a" stroke-width="0.6"/>
<circle cx="130.80" cy="147.40" r="4.55" fill="#2f4fb3" stroke="#1f3a9a" stroke-width="0.6"/>
<circle cx="138.70" cy="146.70" r="4.55" fill="#2f4fb3" stroke="#1f3a9a" stroke-width="0.6"/>
<circle cx="146.50" cy="146.00" r="4.55" fill="#2f4fb3" stroke="#1f3a9a" stroke-width="0.6"/>
<circle cx="154.80" cy="145.70" r="4.55" fill="#2f4fb3" stroke="#1f3a9a" stroke-width="0.6"/>
<circle cx="162.30" cy="145.60" r="4.55" fill="#2f4fb3" stroke="#1f3a9a" stroke-width="0.6"/>
<circle cx="169.80" cy="145.50" r="4.55" fill="#2f4fb3" stroke="#1f3a9a" stroke-width="0.6"/>
<circle cx="177.80" cy="145.40" r="4.55" fill="#2f4fb3" stroke="#1f3a9a" stroke-width="0.6"/>
<circle cx="185.80" cy="145.30" r="4.55" fill="#2f4fb3" stroke="#1f3a9a" stroke-width="0.6"/>
<circle cx="193.80" cy="145.20" r="4.55" fill="#2f4fb3" stroke="#1f3a9a" stroke-width="0.6"/>
<circle cx="202.30" cy="145.00" r="4.55" fill="#2f4fb3" stroke="#1f3a9a" stroke-width="0.6"/>
<circle cx="210.30" cy="144.70" r="4.55" fill="#2f4fb3" stroke="#1f3a9a" stroke-width="0.6"/>
<circle cx="218.90" cy="144.40" r="4.55" fill="#2f4fb3" stroke="#1f3a9a" stroke-width="0.6"/>
<circle cx="228.50" cy="143.90" r="4.55" fill="#2f4fb3" stroke="#1f3a9a" stroke-width="0.6"/>
<circle cx="236.90" cy="143.40" r="4.55" fill="#2f4fb3" stroke="#1f3a9a" stroke-width="0.6"/>
<circle cx="245.40" cy="142.60" r="4.55" fill="#2f4fb3" stroke="#1f3a9a" stroke-width="0.6"/>
<circle cx="253.50" cy="138.90" r="4.30" fill="#2f4fb3" stroke="#1f3a9a" stroke-width="0.6"/>
<circle cx="261.80" cy="133.60" r="4.30" fill="#2f4fb3" stroke="#1f3a9a" stroke-width="0.6"/>
<circle cx="268.80" cy="130.00" r="4.30" fill="#2f4fb3" stroke="#1f3a9a" stroke-width="0.6"/>
<circle cx="278.60" cy="122.90" r="4.30" fill="#2f4fb3" stroke="#1f3a9a" stroke-width="0.6"/>
<circle cx="285.80" cy="114.00" r="4.30" fill="#2f4fb3" stroke="#1f3a9a" stroke-width="0.6"/>
<circle cx="292.90" cy="102.70" r="4.30" fill="#2f4fb3" stroke="#1f3a9a" stroke-width="0.6"/>
<circle cx="300.40" cy="90.90" r="4.30" fill="#2f4fb3" stroke="#1f3a9a" stroke-width="0.6"/>
<circle cx="306.40" cy="87.20" r="4.30" fill="#2f4fb3" stroke="#1f3a9a" stroke-width="0.6"/>
<circle cx="312.40" cy="78.70" r="4.30" fill="#2f4fb3" stroke="#1f3a9a" stroke-width="0.6"/>
<circle cx="320.20" cy="63.60" r="4.30" fill="#2f4fb3" stroke="#1f3a9a" stroke-width="0.6"/>
<circle cx="327.90" cy="76.30" r="4.30" fill="#2f4fb3" stroke="#1f3a9a" stroke-width="0.6"/>
<circle cx="338.50" cy="92.60" r="4.30" fill="#2f4fb3" stroke="#1f3a9a" stroke-width="0.6"/>
<circle cx="108.30" cy="149.00" r="3.90" fill="white" stroke="#333" stroke-width="0.9"/>
<circle cx="115.40" cy="148.60" r="3.90" fill="white" stroke="#333" stroke-width="0.9"/>
<circle cx="122.90" cy="148.10" r="3.90" fill="white" stroke="#333" stroke-width="0.9"/>
<circle cx="131.00" cy="147.20" r="3.90" fill="white" stroke="#333" stroke-width="0.9"/>
<circle cx="138.90" cy="146.50" r="3.90" fill="white" stroke="#333" stroke-width="0.9"/>
<circle cx="146.70" cy="145.80" r="3.90" fill="white" stroke="#333" stroke-width="0.9"/>
<circle cx="155.00" cy="145.50" r="3.90" fill="white" stroke="#333" stroke-width="0.9"/>
<circle cx="162.50" cy="145.40" r="3.90" fill="white" stroke="#333" stroke-width="0.9"/>
<circle cx="170.00" cy="145.30" r="3.90" fill="white" stroke="#333" stroke-width="0.9"/>
<circle cx="178.00" cy="145.20" r="3.90" fill="white" stroke="#333" stroke-width="0.9"/>
<circle cx="186.00" cy="145.10" r="3.90" fill="white" stroke="#333" stroke-width="0.9"/>
<circle cx="194.00" cy="145.00" r="3.90" fill="white" stroke="#333" stroke-width="0.9"/>
<circle cx="202.50" cy="144.80" r="3.90" fill="white" stroke="#333" stroke-width="0.9"/>
<circle cx="210.50" cy="144.50" r="3.90" fill="white" stroke="#333" stroke-width="0.9"/>
<circle cx="219.10" cy="144.20" r="3.90" fill="white" stroke="#333" stroke-width="0.9"/>
<circle cx="228.70" cy="143.70" r="3.90" fill="white" stroke="#333" stroke-width="0.9"/>
<circle cx="237.10" cy="143.20" r="3.90" fill="white" stroke="#333" stroke-width="0.9"/>
<circle cx="245.60" cy="142.40" r="3.90" fill="white" stroke="#333" stroke-width="0.9"/>
<circle cx="254.30" cy="139.60" r="3.90" fill="white" stroke="#333" stroke-width="0.9"/>
<circle cx="262.60" cy="134.30" r="3.90" fill="white" stroke="#333" stroke-width="0.9"/>
<circle cx="271.10" cy="128.60" r="3.90" fill="white" stroke="#333" stroke-width="0.9"/>
<circle cx="281.40" cy="119.60" r="3.90" fill="white" stroke="#333" stroke-width="0.9"/>
<circle cx="292.80" cy="104.90" r="3.90" fill="white" stroke="#333" stroke-width="0.9"/>
<circle cx="301.30" cy="93.40" r="3.90" fill="white" stroke="#333" stroke-width="0.9"/>
<circle cx="306.90" cy="89.10" r="3.90" fill="white" stroke="#333" stroke-width="0.9"/>
<circle cx="314.50" cy="78.00" r="3.90" fill="white" stroke="#333" stroke-width="0.9"/>
<circle cx="322.70" cy="68.90" r="3.90" fill="white" stroke="#333" stroke-width="0.9"/>
<circle cx="329.90" cy="84.50" r="3.90" fill="white" stroke="#333" stroke-width="0.9"/>
<circle cx="338.50" cy="101.10" r="3.90" fill="white" stroke="#333" stroke-width="0.9"/>
<path d="M108.90 198.60L113.40 206.40L104.40 206.40Z" fill="#f3121c" stroke="none" stroke-width="0.0" stroke-linejoin="miter"/>
<path d="M113.50 198.60L118.00 206.40L109.00 206.40Z" fill="#f3121c" stroke="none" stroke-width="0.0" stroke-linejoin="miter"/>
<path d="M121.20 198.60L125.70 206.40L116.70 206.40Z" fill="#f3121c" stroke="none" stroke-width="0.0" stroke-linejoin="miter"/>
<path d="M129.90 197.00L134.40 204.80L125.40 204.80Z" fill="#f3121c" stroke="none" stroke-width="0.0" stroke-linejoin="miter"/>
<path d="M138.00 196.70L142.50 204.50L133.50 204.50Z" fill="#f3121c" stroke="none" stroke-width="0.0" stroke-linejoin="miter"/>
<path d="M145.20 196.10L149.70 203.90L140.70 203.90Z" fill="#f3121c" stroke="none" stroke-width="0.0" stroke-linejoin="miter"/>
<path d="M152.70 195.10L157.20 202.90L148.20 202.90Z" fill="#f3121c" stroke="none" stroke-width="0.0" stroke-linejoin="miter"/>
<path d="M160.00 194.50L164.50 202.30L155.50 202.30Z" fill="#f3121c" stroke="none" stroke-width="0.0" stroke-linejoin="miter"/>
<path d="M167.80 193.70L172.30 201.50L163.30 201.50Z" fill="#f3121c" stroke="none" stroke-width="0.0" stroke-linejoin="miter"/>
<path d="M179.60 193.50L184.10 201.30L175.10 201.30Z" fill="#f3121c" stroke="none" stroke-width="0.0" stroke-linejoin="miter"/>
<path d="M186.40 187.80L190.90 195.60L181.90 195.60Z" fill="#f3121c" stroke="none" stroke-width="0.0" stroke-linejoin="miter"/>
<path d="M194.90 181.10L199.40 188.90L190.40 188.90Z" fill="#f3121c" stroke="none" stroke-width="0.0" stroke-linejoin="miter"/>
<path d="M202.70 175.10L207.20 182.90L198.20 182.90Z" fill="#f3121c" stroke="none" stroke-width="0.0" stroke-linejoin="miter"/>
<path d="M200.00 170.50L204.50 178.30L195.50 178.30Z" fill="#f3121c" stroke="none" stroke-width="0.0" stroke-linejoin="miter"/>
<path d="M208.00 165.70L212.50 173.50L203.50 173.50Z" fill="#f3121c" stroke="none" stroke-width="0.0" stroke-linejoin="miter"/>
<path d="M216.00 163.10L220.50 170.90L211.50 170.90Z" fill="#f3121c" stroke="none" stroke-width="0.0" stroke-linejoin="miter"/>
<path d="M224.00 165.70L228.50 173.50L219.50 173.50Z" fill="#f3121c" stroke="none" stroke-width="0.0" stroke-linejoin="miter"/>
<path d="M232.00 170.10L236.50 177.90L227.50 177.90Z" fill="#f3121c" stroke="none" stroke-width="0.0" stroke-linejoin="miter"/>
<path d="M239.00 171.70L243.50 179.50L234.50 179.50Z" fill="#f3121c" stroke="none" stroke-width="0.0" stroke-linejoin="miter"/>
<path d="M248.00 169.10L252.50 176.90L243.50 176.90Z" fill="#f3121c" stroke="none" stroke-width="0.0" stroke-linejoin="miter"/>
<path d="M252.70 163.70L257.20 171.50L248.20 171.50Z" fill="#f3121c" stroke="none" stroke-width="0.0" stroke-linejoin="miter"/>
<path d="M261.30 148.10L265.80 155.90L256.80 155.90Z" fill="#f3121c" stroke="none" stroke-width="0.0" stroke-linejoin="miter"/>
<path d="M270.70 141.10L275.20 148.90L266.20 148.90Z" fill="#f3121c" stroke="none" stroke-width="0.0" stroke-linejoin="miter"/>
<path d="M275.90 153.10L280.40 160.90L271.40 160.90Z" fill="#f3121c" stroke="none" stroke-width="0.0" stroke-linejoin="miter"/>
<path d="M281.90 163.10L286.40 170.90L277.40 170.90Z" fill="#f3121c" stroke="none" stroke-width="0.0" stroke-linejoin="miter"/>
<path d="M289.60 169.70L294.10 177.50L285.10 177.50Z" fill="#f3121c" stroke="none" stroke-width="0.0" stroke-linejoin="miter"/>
<path d="M338.40 184.60L342.90 192.40L333.90 192.40Z" fill="#f3121c" stroke="none" stroke-width="0.0" stroke-linejoin="miter"/>
<path d="M109.70 200.60L114.20 208.40L105.20 208.40Z" fill="#2f4fb3" stroke="none" stroke-width="0.0" stroke-linejoin="miter"/>
<path d="M114.30 200.60L118.80 208.40L109.80 208.40Z" fill="#2f4fb3" stroke="none" stroke-width="0.0" stroke-linejoin="miter"/>
<path d="M122.00 200.60L126.50 208.40L117.50 208.40Z" fill="#2f4fb3" stroke="none" stroke-width="0.0" stroke-linejoin="miter"/>
<path d="M132.50 199.00L137.00 206.80L128.00 206.80Z" fill="#2f4fb3" stroke="none" stroke-width="0.0" stroke-linejoin="miter"/>
<path d="M140.60 198.70L145.10 206.50L136.10 206.50Z" fill="#2f4fb3" stroke="none" stroke-width="0.0" stroke-linejoin="miter"/>
<path d="M147.80 198.10L152.30 205.90L143.30 205.90Z" fill="#2f4fb3" stroke="none" stroke-width="0.0" stroke-linejoin="miter"/>
<path d="M155.30 197.10L159.80 204.90L150.80 204.90Z" fill="#2f4fb3" stroke="none" stroke-width="0.0" stroke-linejoin="miter"/>
<path d="M162.60 196.50L167.10 204.30L158.10 204.30Z" fill="#2f4fb3" stroke="none" stroke-width="0.0" stroke-linejoin="miter"/>
<path d="M170.40 195.70L174.90 203.50L165.90 203.50Z" fill="#2f4fb3" stroke="none" stroke-width="0.0" stroke-linejoin="miter"/>
<path d="M209.60 171.80L214.10 179.60L205.10 179.60Z" fill="#2f4fb3" stroke="none" stroke-width="0.0" stroke-linejoin="miter"/>
<path d="M217.30 171.50L221.80 179.30L212.80 179.30Z" fill="#2f4fb3" stroke="none" stroke-width="0.0" stroke-linejoin="miter"/>
<path d="M224.60 173.10L229.10 180.90L220.10 180.90Z" fill="#2f4fb3" stroke="none" stroke-width="0.0" stroke-linejoin="miter"/>
<path d="M232.00 175.80L236.50 183.60L227.50 183.60Z" fill="#2f4fb3" stroke="none" stroke-width="0.0" stroke-linejoin="miter"/>
<path d="M239.80 175.00L244.30 182.80L235.30 182.80Z" fill="#2f4fb3" stroke="none" stroke-width="0.0" stroke-linejoin="miter"/>
<path d="M247.90 170.30L252.40 178.10L243.40 178.10Z" fill="#2f4fb3" stroke="none" stroke-width="0.0" stroke-linejoin="miter"/>
<path d="M175.80 191.70L180.30 199.50L171.30 199.50Z" fill="#2f4fb3" stroke="none" stroke-width="0.0" stroke-linejoin="miter"/>
<path d="M182.60 186.00L187.10 193.80L178.10 193.80Z" fill="#2f4fb3" stroke="none" stroke-width="0.0" stroke-linejoin="miter"/>
<path d="M191.10 179.30L195.60 187.10L186.60 187.10Z" fill="#2f4fb3" stroke="none" stroke-width="0.0" stroke-linejoin="miter"/>
<path d="M198.90 173.30L203.40 181.10L194.40 181.10Z" fill="#2f4fb3" stroke="none" stroke-width="0.0" stroke-linejoin="miter"/>
<path d="M251.90 164.50L256.40 172.30L247.40 172.30Z" fill="#2f4fb3" stroke="none" stroke-width="0.0" stroke-linejoin="miter"/>
<path d="M261.30 150.80L265.80 158.60L256.80 158.60Z" fill="#2f4fb3" stroke="none" stroke-width="0.0" stroke-linejoin="miter"/>
<path d="M272.40 139.70L276.90 147.50L267.90 147.50Z" fill="#2f4fb3" stroke="none" stroke-width="0.0" stroke-linejoin="miter"/>
<path d="M276.70 148.20L281.20 156.00L272.20 156.00Z" fill="#2f4fb3" stroke="none" stroke-width="0.0" stroke-linejoin="miter"/>
<path d="M282.40 160.20L286.90 168.00L277.90 168.00Z" fill="#2f4fb3" stroke="none" stroke-width="0.0" stroke-linejoin="miter"/>
<path d="M287.00 165.40L291.50 173.20L282.50 173.20Z" fill="#2f4fb3" stroke="none" stroke-width="0.0" stroke-linejoin="miter"/>
<path d="M294.00 167.10L298.50 174.90L289.50 174.90Z" fill="#2f4fb3" stroke="none" stroke-width="0.0" stroke-linejoin="miter"/>
<path d="M302.40 158.50L306.90 166.30L297.90 166.30Z" fill="#2f4fb3" stroke="none" stroke-width="0.0" stroke-linejoin="miter"/>
<path d="M307.00 155.30L311.50 163.10L302.50 163.10Z" fill="#2f4fb3" stroke="none" stroke-width="0.0" stroke-linejoin="miter"/>
<path d="M314.00 149.10L318.50 156.90L309.50 156.90Z" fill="#2f4fb3" stroke="none" stroke-width="0.0" stroke-linejoin="miter"/>
<path d="M320.00 170.10L324.50 177.90L315.50 177.90Z" fill="#2f4fb3" stroke="none" stroke-width="0.0" stroke-linejoin="miter"/>
<path d="M326.00 200.50L330.50 208.30L321.50 208.30Z" fill="#2f4fb3" stroke="none" stroke-width="0.0" stroke-linejoin="miter"/>
<path d="M338.00 193.10L342.50 200.90L333.50 200.90Z" fill="#2f4fb3" stroke="none" stroke-width="0.0" stroke-linejoin="miter"/>
<path d="M111.70 197.80L115.80 204.80L107.60 204.80Z" fill="white" stroke="#231f20" stroke-width="0.95" stroke-linejoin="miter"/>
<path d="M116.30 197.80L120.40 204.80L112.20 204.80Z" fill="white" stroke="#231f20" stroke-width="0.95" stroke-linejoin="miter"/>
<path d="M124.00 197.80L128.10 204.80L119.90 204.80Z" fill="white" stroke="#231f20" stroke-width="0.95" stroke-linejoin="miter"/>
<path d="M132.20 196.80L136.30 203.80L128.10 203.80Z" fill="white" stroke="#231f20" stroke-width="0.95" stroke-linejoin="miter"/>
<path d="M140.30 196.50L144.40 203.50L136.20 203.50Z" fill="white" stroke="#231f20" stroke-width="0.95" stroke-linejoin="miter"/>
<path d="M147.50 195.90L151.60 202.90L143.40 202.90Z" fill="white" stroke="#231f20" stroke-width="0.95" stroke-linejoin="miter"/>
<path d="M155.00 194.90L159.10 201.90L150.90 201.90Z" fill="white" stroke="#231f20" stroke-width="0.95" stroke-linejoin="miter"/>
<path d="M162.30 194.30L166.40 201.30L158.20 201.30Z" fill="white" stroke="#231f20" stroke-width="0.95" stroke-linejoin="miter"/>
<path d="M170.10 193.50L174.20 200.50L166.00 200.50Z" fill="white" stroke="#231f20" stroke-width="0.95" stroke-linejoin="miter"/>
<path d="M178.00 191.50L182.10 198.50L173.90 198.50Z" fill="white" stroke="#231f20" stroke-width="0.95" stroke-linejoin="miter"/>
<path d="M184.80 185.80L188.90 192.80L180.70 192.80Z" fill="white" stroke="#231f20" stroke-width="0.95" stroke-linejoin="miter"/>
<path d="M193.30 179.10L197.40 186.10L189.20 186.10Z" fill="white" stroke="#231f20" stroke-width="0.95" stroke-linejoin="miter"/>
<path d="M201.10 173.10L205.20 180.10L197.00 180.10Z" fill="white" stroke="#231f20" stroke-width="0.95" stroke-linejoin="miter"/>
<path d="M209.30 170.50L213.40 177.50L205.20 177.50Z" fill="white" stroke="#231f20" stroke-width="0.95" stroke-linejoin="miter"/>
<path d="M217.00 170.20L221.10 177.20L212.90 177.20Z" fill="white" stroke="#231f20" stroke-width="0.95" stroke-linejoin="miter"/>
<path d="M224.30 171.80L228.40 178.80L220.20 178.80Z" fill="white" stroke="#231f20" stroke-width="0.95" stroke-linejoin="miter"/>
<path d="M231.70 174.50L235.80 181.50L227.60 181.50Z" fill="white" stroke="#231f20" stroke-width="0.95" stroke-linejoin="miter"/>
<path d="M239.50 173.70L243.60 180.70L235.40 180.70Z" fill="white" stroke="#231f20" stroke-width="0.95" stroke-linejoin="miter"/>
<path d="M247.60 169.00L251.70 176.00L243.50 176.00Z" fill="white" stroke="#231f20" stroke-width="0.95" stroke-linejoin="miter"/>
<path d="M255.60 160.00L259.70 167.00L251.50 167.00Z" fill="white" stroke="#231f20" stroke-width="0.95" stroke-linejoin="miter"/>
<path d="M263.40 147.50L267.50 154.50L259.30 154.50Z" fill="white" stroke="#231f20" stroke-width="0.95" stroke-linejoin="miter"/>
<path d="M267.50 141.10L271.60 148.10L263.40 148.10Z" fill="white" stroke="#231f20" stroke-width="0.95" stroke-linejoin="miter"/>
<path d="M274.80 144.00L278.90 151.00L270.70 151.00Z" fill="white" stroke="#231f20" stroke-width="0.95" stroke-linejoin="miter"/>
<path d="M281.20 155.50L285.30 162.50L277.10 162.50Z" fill="white" stroke="#231f20" stroke-width="0.95" stroke-linejoin="miter"/>
<path d="M287.40 163.50L291.50 170.50L283.30 170.50Z" fill="white" stroke="#231f20" stroke-width="0.95" stroke-linejoin="miter"/>
<path d="M293.30 165.50L297.40 172.50L289.20 172.50Z" fill="white" stroke="#231f20" stroke-width="0.95" stroke-linejoin="miter"/>
<path d="M300.20 162.50L304.30 169.50L296.10 169.50Z" fill="white" stroke="#231f20" stroke-width="0.95" stroke-linejoin="miter"/>
<path d="M308.00 152.70L312.10 159.70L303.90 159.70Z" fill="white" stroke="#231f20" stroke-width="0.95" stroke-linejoin="miter"/>
<path d="M316.40 154.30L320.50 161.30L312.30 161.30Z" fill="white" stroke="#231f20" stroke-width="0.95" stroke-linejoin="miter"/>
<path d="M339.00 178.50L343.10 185.50L334.90 185.50Z" fill="white" stroke="#231f20" stroke-width="0.95" stroke-linejoin="miter"/>
<rect x="103.40" y="285.50" width="7.00" height="7.00" fill="#3550a8" stroke="#213a94" stroke-width="0.8"/>
<rect x="109.90" y="282.00" width="7.00" height="7.00" fill="#3550a8" stroke="#213a94" stroke-width="0.8"/>
<rect x="117.90" y="277.00" width="7.00" height="7.00" fill="#3550a8" stroke="#213a94" stroke-width="0.8"/>
<rect x="125.30" y="275.20" width="7.00" height="7.00" fill="#3550a8" stroke="#213a94" stroke-width="0.8"/>
<rect x="133.40" y="274.70" width="7.00" height="7.00" fill="#3550a8" stroke="#213a94" stroke-width="0.8"/>
<rect x="139.70" y="275.90" width="7.00" height="7.00" fill="#3550a8" stroke="#213a94" stroke-width="0.8"/>
<rect x="149.30" y="275.60" width="7.00" height="7.00" fill="#3550a8" stroke="#213a94" stroke-width="0.8"/>
<rect x="155.90" y="275.30" width="7.00" height="7.00" fill="#3550a8" stroke="#213a94" stroke-width="0.8"/>
<rect x="163.80" y="274.10" width="7.00" height="7.00" fill="#3550a8" stroke="#213a94" stroke-width="0.8"/>
<rect x="172.10" y="273.60" width="7.00" height="7.00" fill="#3550a8" stroke="#213a94" stroke-width="0.8"/>
<rect x="180.20" y="273.50" width="7.00" height="7.00" fill="#3550a8" stroke="#213a94" stroke-width="0.8"/>
<rect x="187.90" y="273.50" width="7.00" height="7.00" fill="#3550a8" stroke="#213a94" stroke-width="0.8"/>
<rect x="195.10" y="271.80" width="7.00" height="7.00" fill="#3550a8" stroke="#213a94" stroke-width="0.8"/>
<rect x="202.20" y="270.60" width="7.00" height="7.00" fill="#3550a8" stroke="#213a94" stroke-width="0.8"/>
<rect x="210.80" y="269.00" width="7.00" height="7.00" fill="#3550a8" stroke="#213a94" stroke-width="0.8"/>
<rect x="218.50" y="268.00" width="7.00" height="7.00" fill="#3550a8" stroke="#213a94" stroke-width="0.8"/>
<rect x="226.50" y="280.40" width="7.00" height="7.00" fill="#3550a8" stroke="#213a94" stroke-width="0.8"/>
<rect x="234.20" y="266.90" width="7.00" height="7.00" fill="#3550a8" stroke="#213a94" stroke-width="0.8"/>
<rect x="242.20" y="265.50" width="7.00" height="7.00" fill="#3550a8" stroke="#213a94" stroke-width="0.8"/>
<rect x="249.40" y="264.60" width="7.00" height="7.00" fill="#3550a8" stroke="#213a94" stroke-width="0.8"/>
<rect x="257.10" y="276.00" width="7.00" height="7.00" fill="#3550a8" stroke="#213a94" stroke-width="0.8"/>
<rect x="265.10" y="261.80" width="7.00" height="7.00" fill="#3550a8" stroke="#213a94" stroke-width="0.8"/>
<rect x="272.80" y="258.90" width="7.00" height="7.00" fill="#3550a8" stroke="#213a94" stroke-width="0.8"/>
<rect x="281.40" y="258.90" width="7.00" height="7.00" fill="#3550a8" stroke="#213a94" stroke-width="0.8"/>
<rect x="289.40" y="272.00" width="7.00" height="7.00" fill="#3550a8" stroke="#213a94" stroke-width="0.8"/>
<rect x="295.90" y="271.20" width="7.00" height="7.00" fill="#3550a8" stroke="#213a94" stroke-width="0.8"/>
<path d="M111.10 336.40L115.60 344.20L106.60 344.20Z" fill="#231f20" stroke="none" stroke-width="0.0" stroke-linejoin="miter"/>
<path d="M115.80 337.70L120.30 345.50L111.30 345.50Z" fill="#231f20" stroke="none" stroke-width="0.0" stroke-linejoin="miter"/>
<path d="M124.30 348.00L128.80 355.80L119.80 355.80Z" fill="#231f20" stroke="none" stroke-width="0.0" stroke-linejoin="miter"/>
<path d="M131.70 355.70L136.20 363.50L127.20 363.50Z" fill="#231f20" stroke="none" stroke-width="0.0" stroke-linejoin="miter"/>
<path d="M139.80 365.20L144.30 373.00L135.30 373.00Z" fill="#231f20" stroke="none" stroke-width="0.0" stroke-linejoin="miter"/>
<path d="M147.10 377.20L151.60 385.00L142.60 385.00Z" fill="#231f20" stroke="none" stroke-width="0.0" stroke-linejoin="miter"/>
<path d="M154.80 389.70L159.30 397.50L150.30 397.50Z" fill="#231f20" stroke="none" stroke-width="0.0" stroke-linejoin="miter"/>
<path d="M162.50 397.00L167.00 404.80L158.00 404.80Z" fill="#231f20" stroke="none" stroke-width="0.0" stroke-linejoin="miter"/>
<path d="M170.20 417.30L174.70 425.10L165.70 425.10Z" fill="#231f20" stroke="none" stroke-width="0.0" stroke-linejoin="miter"/>
<path d="M178.00 421.00L182.50 428.80L173.50 428.80Z" fill="#231f20" stroke="none" stroke-width="0.0" stroke-linejoin="miter"/>
<path d="M185.70 393.60L190.20 401.40L181.20 401.40Z" fill="#231f20" stroke="none" stroke-width="0.0" stroke-linejoin="miter"/>
<path d="M193.70 429.60L198.20 437.40L189.20 437.40Z" fill="#231f20" stroke="none" stroke-width="0.0" stroke-linejoin="miter"/>
<path d="M217.30 400.30L221.80 408.10L212.80 408.10Z" fill="#231f20" stroke="none" stroke-width="0.0" stroke-linejoin="miter"/>
<path d="M224.50 382.30L229.00 390.10L220.00 390.10Z" fill="#231f20" stroke="none" stroke-width="0.0" stroke-linejoin="miter"/>
<path d="M232.10 376.00L236.60 383.80L227.60 383.80Z" fill="#231f20" stroke="none" stroke-width="0.0" stroke-linejoin="miter"/>
<path d="M240.30 376.00L244.80 383.80L235.80 383.80Z" fill="#231f20" stroke="none" stroke-width="0.0" stroke-linejoin="miter"/>
<path d="M247.80 383.90L252.30 391.70L243.30 391.70Z" fill="#231f20" stroke="none" stroke-width="0.0" stroke-linejoin="miter"/>
<path d="M255.30 397.10L259.80 404.90L250.80 404.90Z" fill="#231f20" stroke="none" stroke-width="0.0" stroke-linejoin="miter"/>
<path d="M263.30 441.90L267.80 449.70L258.80 449.70Z" fill="#231f20" stroke="none" stroke-width="0.0" stroke-linejoin="miter"/>
<path d="M267.00 377.60L271.50 385.40L262.50 385.40Z" fill="#231f20" stroke="none" stroke-width="0.0" stroke-linejoin="miter"/>
<path d="M274.90 328.50L279.40 336.30L270.40 336.30Z" fill="#231f20" stroke="none" stroke-width="0.0" stroke-linejoin="miter"/>
<path d="M281.40 347.60L285.90 355.40L276.90 355.40Z" fill="#231f20" stroke="none" stroke-width="0.0" stroke-linejoin="miter"/>
<path d="M287.40 376.00L291.90 383.80L282.90 383.80Z" fill="#231f20" stroke="none" stroke-width="0.0" stroke-linejoin="miter"/>
<path d="M293.10 368.20L297.60 376.00L288.60 376.00Z" fill="#231f20" stroke="none" stroke-width="0.0" stroke-linejoin="miter"/>
<path d="M300.00 394.00L304.50 401.80L295.50 401.80Z" fill="#231f20" stroke="none" stroke-width="0.0" stroke-linejoin="miter"/>
<circle cx="108.20" cy="360.10" r="4.00" fill="#69bd46" stroke="#55b232" stroke-width="0.6"/>
<circle cx="115.40" cy="352.40" r="4.00" fill="#69bd46" stroke="#55b232" stroke-width="0.6"/>
<circle cx="122.60" cy="345.20" r="4.00" fill="#69bd46" stroke="#55b232" stroke-width="0.6"/>
<circle cx="131.20" cy="342.10" r="4.00" fill="#69bd46" stroke="#55b232" stroke-width="0.6"/>
<circle cx="139.10" cy="338.70" r="4.00" fill="#69bd46" stroke="#55b232" stroke-width="0.6"/>
<circle cx="146.60" cy="341.30" r="4.00" fill="#69bd46" stroke="#55b232" stroke-width="0.6"/>
<circle cx="155.70" cy="341.30" r="4.00" fill="#69bd46" stroke="#55b232" stroke-width="0.6"/>
<circle cx="160.60" cy="337.70" r="4.00" fill="#69bd46" stroke="#55b232" stroke-width="0.6"/>
<circle cx="169.60" cy="345.10" r="4.00" fill="#69bd46" stroke="#55b232" stroke-width="0.6"/>
<circle cx="177.70" cy="342.90" r="4.00" fill="#69bd46" stroke="#55b232" stroke-width="0.6"/>
<circle cx="185.70" cy="342.90" r="4.00" fill="#69bd46" stroke="#55b232" stroke-width="0.6"/>
<circle cx="194.30" cy="342.90" r="4.00" fill="#69bd46" stroke="#55b232" stroke-width="0.6"/>
<circle cx="202.30" cy="342.30" r="4.00" fill="#69bd46" stroke="#55b232" stroke-width="0.6"/>
<circle cx="210.90" cy="334.90" r="4.00" fill="#69bd46" stroke="#55b232" stroke-width="0.6"/>
<circle cx="220.00" cy="334.30" r="4.00" fill="#69bd46" stroke="#55b232" stroke-width="0.6"/>
<circle cx="228.60" cy="332.90" r="4.00" fill="#69bd46" stroke="#55b232" stroke-width="0.6"/>
<circle cx="236.60" cy="332.00" r="4.00" fill="#69bd46" stroke="#55b232" stroke-width="0.6"/>
<circle cx="245.40" cy="329.30" r="4.00" fill="#69bd46" stroke="#55b232" stroke-width="0.6"/>
<circle cx="254.10" cy="330.90" r="4.00" fill="#69bd46" stroke="#55b232" stroke-width="0.6"/>
<circle cx="262.90" cy="338.00" r="4.00" fill="#69bd46" stroke="#55b232" stroke-width="0.6"/>
<circle cx="271.40" cy="342.00" r="4.00" fill="#69bd46" stroke="#55b232" stroke-width="0.6"/>
<line x1="161.40" y1="256.60" x2="146.45" y2="266.30" stroke="#231f20" stroke-width="1.3"/>
<path d="M138.60 271.40L146.87 262.10L146.45 266.30L150.46 267.63Z" fill="#231f20"/>
<line x1="194.90" y1="320.00" x2="182.95" y2="329.77" stroke="#231f20" stroke-width="1.3"/>
<path d="M175.70 335.70L182.90 325.55L182.95 329.77L187.08 330.66Z" fill="#231f20"/>
<line x1="120.50" y1="417.50" x2="134.86" y2="400.03" stroke="#231f20" stroke-width="1.3"/>
<path d="M140.80 392.80L135.73 404.17L134.86 400.03L130.63 399.98Z" fill="#231f20"/>
<text x="44.00" y="54.60" font-size="17.7" text-anchor="end" fill="#231f20" font-family="'Liberation Sans', sans-serif" >10</text>
<text x="44.40" y="46.60" font-size="10.8" text-anchor="start" fill="#231f20" font-family="'Liberation Sans', sans-serif" >-3</text>
<text x="44.00" y="133.10" font-size="17.7" text-anchor="end" fill="#231f20" font-family="'Liberation Sans', sans-serif" >10</text>
<text x="44.40" y="125.10" font-size="10.8" text-anchor="start" fill="#231f20" font-family="'Liberation Sans', sans-serif" >-4</text>
<text x="44.00" y="211.60" font-size="17.7" text-anchor="end" fill="#231f20" font-family="'Liberation Sans', sans-serif" >10</text>
<text x="44.40" y="203.60" font-size="10.8" text-anchor="start" fill="#231f20" font-family="'Liberation Sans', sans-serif" >-5</text>
<text x="44.00" y="285.50" font-size="17.7" text-anchor="end" fill="#231f20" font-family="'Liberation Sans', sans-serif" >10</text>
<text x="44.40" y="277.50" font-size="10.8" text-anchor="start" fill="#231f20" font-family="'Liberation Sans', sans-serif" >-5</text>
<text x="44.00" y="356.60" font-size="17.7" text-anchor="end" fill="#231f20" font-family="'Liberation Sans', sans-serif" >10</text>
<text x="44.40" y="348.60" font-size="10.8" text-anchor="start" fill="#231f20" font-family="'Liberation Sans', sans-serif" >-6</text>
<text x="44.00" y="427.70" font-size="17.7" text-anchor="end" fill="#231f20" font-family="'Liberation Sans', sans-serif" >10</text>
<text x="44.40" y="419.70" font-size="10.8" text-anchor="start" fill="#231f20" font-family="'Liberation Sans', sans-serif" >-7</text>
<text x="61.00" y="479.60" font-size="17.9" text-anchor="middle" fill="#231f20" font-family="'Liberation Sans', sans-serif" >0.1</text>
<text x="141.00" y="479.60" font-size="17.9" text-anchor="middle" fill="#231f20" font-family="'Liberation Sans', sans-serif" >1</text>
<text x="221.00" y="479.60" font-size="17.9" text-anchor="middle" fill="#231f20" font-family="'Liberation Sans', sans-serif" >10</text>
<text x="301.00" y="479.60" font-size="17.9" text-anchor="middle" fill="#231f20" font-family="'Liberation Sans', sans-serif" >100</text>
<text x="205.80" y="512.00" font-size="18.2" text-anchor="middle" fill="#231f20" font-family="'Liberation Sans', sans-serif" >Temperature (K)</text>
<text x="72.80" y="30.00" font-size="18.8" text-anchor="start" fill="#231f20" font-family="'Liberation Sans', sans-serif" letter-spacing="0.3">a)</text>
<text x="73.00" y="255.80" font-size="18.8" text-anchor="start" fill="#231f20" font-family="'Liberation Sans', sans-serif" letter-spacing="0.3">b)</text>
<text x="69.80" y="88.00" font-size="14" text-anchor="start" fill="#231f20" font-family="'Liberation Sans', sans-serif" letter-spacing="0.5"><tspan font-style="italic">a</tspan>-Si 45°C</text>
<text x="70.40" y="138.00" font-size="14" text-anchor="start" fill="#231f20" font-family="'Liberation Sans', sans-serif" letter-spacing="0.5"><tspan font-style="italic">a</tspan>-Si 200°C</text>
<text x="69.80" y="192.20" font-size="14" text-anchor="start" fill="#231f20" font-family="'Liberation Sans', sans-serif" letter-spacing="0.5"><tspan font-style="italic">a</tspan>-Si:H</text>
<text x="164.00" y="261.60" font-size="14" text-anchor="start" fill="#231f20" font-family="'Liberation Sans', sans-serif" letter-spacing="0.5"><tspan font-style="italic">a</tspan>-Si 45°C</text>
<text x="163.40" y="315.90" font-size="14" text-anchor="start" fill="#231f20" font-family="'Liberation Sans', sans-serif" letter-spacing="0.5"><tspan font-style="italic">a</tspan>-Si 200°C</text>
<text x="79.00" y="432.30" font-size="14" text-anchor="start" fill="#231f20" font-family="'Liberation Sans', sans-serif" letter-spacing="0.5"><tspan font-style="italic">a</tspan>-Si:H</text>
<text transform="translate(17.6,113.2) rotate(-90)" font-size="17.6" fill="#231f20" font-family="'Liberation Sans', sans-serif">O<tspan font-size="10" dy="-8.6" dx="-0.6">-1</tspan></text>
<line x1="14.20" y1="106.00" x2="18.60" y2="101.00" stroke="#231f20" stroke-width="1.6"/>
<text transform="translate(17.0,364.8) rotate(-90)" font-size="17.6" fill="#231f20" font-family="'Liberation Sans', sans-serif"><tspan font-size="15.6">Δ</tspan><tspan dx="0.3">O</tspan><tspan font-size="10" dy="-8.8" dx="0.2">-1</tspan></text>
<line x1="13.60" y1="346.00" x2="17.70" y2="341.30" stroke="#231f20" stroke-width="1.6"/>
</svg>
</body></html>
